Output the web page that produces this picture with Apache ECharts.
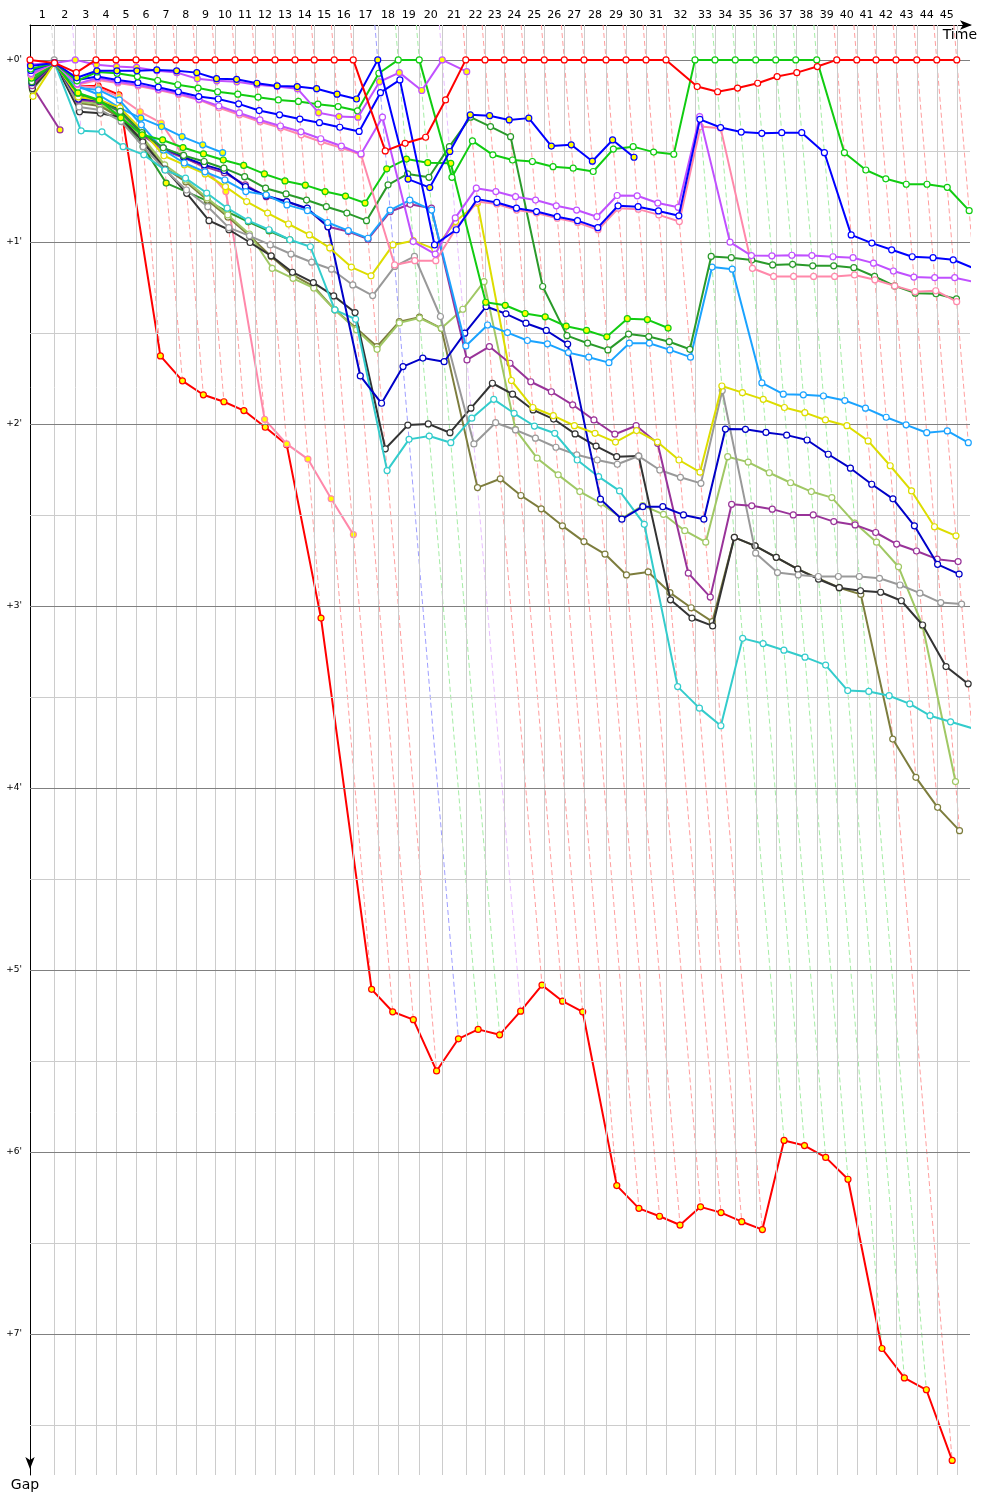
<!DOCTYPE html>
<html>
<head>
<meta charset="utf-8">
<script src="https://cdn.jsdelivr.net/npm/echarts@6/dist/echarts.min.js"></script>
<style>
html,body{margin:0;padding:0;background:#fff;}
#c{width:1000px;height:1500px;}
</style>
</head>
<body>
<div id="c"></div>
<script>
// Leader's elapsed race time (s) at the end of each lap 0..45
const leaderTime = [0, 97, 181, 264, 344, 424, 504, 583, 663, 740, 820, 900, 980, 1060, 1137, 1217, 1293,
  1391, 1473, 1557, 1649, 1743, 1820, 1897, 1976, 2057, 2137, 2216, 2304, 2384, 2464, 2544,
  2660, 2740, 2821, 2903, 2983, 3063, 3147, 3227, 3307, 3384, 3464, 3547, 3627, 3707];

// Gap to leader (s) per lap, index = lap number (0 = start)
const gapRed = [0, 1.0, 4.2, 0,0,0,0,0,0,0,0,0,0,0,0,0,0, 30.0, 27.5, 25.5, 13.2, 0,0,0,0,0,0,0,0,0,0,0,
  8.8, 10.5, 9.3, 7.7, 5.5, 4.2, 2.2, 0,0,0,0,0,0,0];
const gapBlueA = [2.0, 1.0, 5.9, 3.6, 3.6, 3.6, 3.3, 3.6, 4.2, 6.2, 6.4, 7.7, 8.6, 8.8, 9.5, 11.3, 12.9,
  0, 39.3, 42.1, 30.2, 18.1, 18.4, 19.8, 19.2, 28.4, 28.0, 33.4, 26.4, 32.1];
const gapVioletA = [1.5, 1.0, 0, 1.6, 2.2, 2.5, 3.6, 4.2, 6.2, 6.9, 7.2, 8.2, 8.8, 9.5, 17.4, 18.7, 18.9,
  7.2, 4.2, 10.1, 0, 3.9];
const gapGreenA = [3.0, 1.0, 6.9, 4.0, 4.4, 5.5, 6.8, 8.2, 9.3, 10.5, 11.3, 12.3, 13.2, 13.7, 14.6, 15.4, 16.8,
  4.4, 0, 0, 38.7, 26.7, 31.3, 33.0, 33.5, 35.2, 35.7, 36.8, 29.4, 28.6, 30.4, 31.1,
  0, 0, 0, 0, 0, 0, 0, 30.6, 36.3, 39.2, 41.0, 41.0, 42.0, 49.7];
const gapBlueB = [3.5, 1.0, 6.6, 5.5, 6.6, 7.5, 9.0, 10.5, 12.1, 12.9, 14.5, 16.7, 18.1, 19.5, 20.7, 22.2, 23.6,
  10.8, 6.6, 61.0, 56.0, 45.9, 47.0, 48.9, 50.0, 51.7, 53.0, 55.3, 48.1, 48.4, 49.8, 51.4,
  19.6, 22.3, 23.8, 24.2, 24.0, 24.0, 30.6, 57.7, 60.4, 62.6, 64.9, 65.2, 65.9, 68.7];
const gapVioletB = [4.5, 1.0, 7.9, 6.0, 7.2, 8.2, 9.7, 11.0, 13.0, 15.2, 17.5, 19.8, 21.8, 23.7, 26.0, 28.4, 31.0,
  18.9, 59.9, 64.0, 52.1, 42.3, 43.4, 45.1, 46.2, 48.1, 49.5, 51.7, 44.7, 44.8, 47.2, 48.6,
  18.7, 60.1, 64.5, 64.6, 64.4, 64.5, 64.9, 65.2, 67.0, 69.6, 71.6, 71.8, 71.8, 73.3];
const gapPinkB = [5.0, 1.0, 8.2, 6.6, 7.6, 8.6, 9.9, 11.4, 13.2, 15.8, 18.1, 20.4, 22.4, 24.7, 27.0, 29.0, 31.3,
  67.6, 66.2, 66.2, 55.5, 46.7, 47.5, 49.5, 50.5, 52.2, 53.6, 56.0, 48.9, 49.2, 51.1, 53.3,
  22.0, 22.5, 68.7, 71.4, 71.4, 71.4, 71.4, 70.9, 72.5, 74.5, 76.4, 76.1, 79.7];
const gapGreenB = [6.0, 1.0, 10.9, 13.2, 19.1, 24.7, 26.4, 28.9, 31.0, 33.0, 34.8, 37.6, 39.9, 41.3, 43.4, 44.9, 47.2,
  35.9, 32.7, 33.9, 34.1, 79.9, 80.9, 83.6, 84.7, 87.8, 89.2, 91.3, 85.3, 85.6, 88.4];
const gapForestA = [7.2, 1.0, 11.0, 13.5, 17.0, 24.0, 29.0, 31.5, 33.5, 35.7, 38.5, 42.3, 44.2, 46.2, 48.4, 50.5, 53.0,
  41.2, 37.6, 38.7, 28.6, 18.9, 22.0, 25.3, 74.7, 90.9, 93.4, 95.6, 90.4, 91.2, 92.9, 95.4,
  64.8, 65.2, 66.0, 67.6, 67.4, 67.9, 67.9, 68.5, 71.4, 74.5, 76.9, 77.1, 78.8];
const gapForestB = [7.0, 1.0, 11.5, 14.8, 19.1, 28.6, 40.6, 43.5, 46.5, 50.1, 53.4, 56.4, 59.3];
const gapSkyA = [5.5, 1.0, 9.2, 9.9, 13.2, 21.4, 29.7, 34.0, 36.9, 39.6, 43.4, 44.5, 47.8, 49.7, 53.6, 56.3, 58.8,
  49.5, 46.2, 49.5, 94.3, 87.4, 89.9, 92.5, 93.6, 96.5, 98.0, 99.8, 93.4, 93.4, 95.6, 98.0,
  68.3, 69.0, 106.5, 110.2, 110.4, 110.8, 112.3, 114.8, 117.8, 120.3, 122.9, 122.3, 126.2];
const gapSkyB = [4.8, 1.0, 8.6, 11.5, 15.9, 19.2, 22.0, 25.3, 28.0, 30.6];
const gapYellow = [12.0, 1.0, 12.2, 13.2, 15.8, 23.1, 31.6, 34.6, 37.6, 41.8, 46.7, 50.5, 54.1, 57.7, 62.0, 68.3, 71.2,
  61.0, 59.6, 62.4, 53.3, 47.2, 105.7, 114.6, 117.3, 120.6, 123.1, 126.0, 122.2, 126.0, 131.9, 135.9,
  107.5, 109.7, 111.9, 114.6, 116.3, 118.7, 120.6, 125.6, 133.8, 142.1, 153.9, 156.9];
const gapGray = [8.0, 0, 15.5, 16.5, 20.3, 28.6, 36.3, 42.9, 48.4, 55.3, 58.0, 61.0, 64.0, 66.7, 69.0, 74.2, 77.7,
  68.1, 64.8, 84.6, 126.6, 119.6, 122.0, 124.7, 127.7, 130.2, 131.9, 133.3, 130.6, 135.2, 137.6, 139.6,
  109.0, 162.6, 169.0, 169.8, 170.3, 170.3, 170.3, 170.9, 173.1, 175.8, 178.9, 179.4];
const gapBlack = [9.5, 1.0, 17.1, 17.6, 18.9, 27.0, 36.0, 44.0, 53.0, 56.0, 60.2, 64.6, 70.0, 73.4, 77.8, 83.3, 128.2,
  120.4, 120.0, 122.9, 114.8, 106.6, 110.2, 115.4, 118.4, 123.3, 127.3, 130.8, 130.6, 178.0, 184.0, 186.6,
  157.4, 160.2, 164.0, 167.9, 171.2, 174.0, 175.0, 175.5, 178.3, 186.3, 200.0, 205.7];
const gapOlive = [9.0, 1.0, 14.2, 15.2, 19.1, 26.4, 35.6, 40.2, 46.2, 51.8, 58.0, 64.8, 70.9, 74.7, 82.4, 88.5, 94.5,
  86.3, 84.8, 88.5, 141.0, 138.1, 143.6, 148.0, 153.6, 158.8, 162.9, 169.8, 168.8, 175.6, 180.6, 185.2,
  157.4, 160.2, 164.0, 167.9, 170.9, 174.0, 176.2, 223.9, 236.5, 246.4, 254.1];
const gapLimeOlive = [10.0, 1.0, 13.8, 14.5, 18.1, 25.4, 34.6, 39.6, 45.5, 51.1, 57.4, 68.7, 72.0, 75.2, 82.4, 89.0, 95.4,
  86.7, 85.1, 88.5, 82.2, 73.1, 121.8, 131.3, 136.8, 142.3, 146.1, 151.1, 146.9, 149.8, 155.2, 159.0,
  130.8, 132.6, 136.1, 139.4, 142.3, 144.3, 152.7, 159.0, 167.1, 186.6, 237.9];
const gapTurquoise = [4.0, 1.0, 23.4, 23.7, 28.6, 31.3, 36.3, 39.0, 43.9, 48.9, 53.0, 56.0, 59.3, 61.6, 82.4, 85.5, 135.4,
  125.1, 124.0, 126.2, 118.1, 111.9, 116.5, 120.7, 123.1, 131.9, 137.4, 142.1, 153.1, 206.6, 213.7, 219.5,
  190.7, 192.4, 194.6, 196.9, 199.5, 207.9, 208.2, 209.6, 212.3, 216.2, 218.2, 220.3];
const gapPurple = [8.5, 1.0, 13.2, 13.8, 17.1, 24.7, 29.7, 32.3, 35.2, 37.2, 41.2, 45.1, 46.7, 49.2, 55.0, 56.6, 59.1,
  50.0, 47.6, 48.9, 98.9, 94.5, 100.0, 106.1, 109.4, 113.7, 118.7, 123.4, 120.6, 126.4, 169.2, 177.1,
  146.5, 147.0, 148.1, 150.0, 150.0, 152.2, 153.3, 155.8, 159.6, 161.9, 164.6, 165.4];
const gapNavy = [7.5, 1.0, 12.9, 13.2, 16.5, 24.1, 29.0, 32.0, 34.6, 36.5, 41.8, 44.8, 46.7, 48.9, 55.0, 104.2, 113.2,
  101.1, 98.3, 99.5, 90.1, 81.3, 83.7, 86.8, 89.2, 93.7, 144.8, 151.4, 147.3, 147.3, 150.0, 151.4,
  121.7, 121.8, 122.8, 123.7, 125.3, 130.0, 134.6, 139.9, 144.7, 153.6, 166.3, 169.5];
const gapRedLapped = [5.0, 1.0, 8.6, 8.6, 11.5, 97.6, 105.8, 110.4, 112.7, 115.6, 121.1, 126.9, 184.0, 306.4, 313.8, 316.4, 333.3,
  322.7, 319.6, 321.4, 313.6, 305.0, 310.3, 313.8, 371.1, 378.6, 381.2, 384.1, 378.1, 380.0, 383.0, 385.6,
  356.2, 357.9, 361.8, 369.0, 424.8, 434.5, 438.4, 461.7];
const gapPinkA = [6.5, 1.0, 8.6, 9.2, 12.2, 17.1, 20.8, 31.9, 35.7, 43.4, 118.5, 126.6, 131.6, 144.7, 156.5];
const gapPurpleShort = [8.8, 23.1];

// y tick labels (s) and grid steps
const gapTicks = [0, 60, 120, 180, 240, 300, 360, 420];
const gridSteps = [0, 30, 60, 90, 120, 150, 180, 210, 240, 270, 300, 330, 360, 390, 420, 450];

const Y_MIN = -11.5, Y_MAX = 466.5, X_MAX = 3760;
const FONT = 'DejaVu Sans';

// drawing order: first = bottom
const defs = [
  {gaps: gapRedLapped, color: '#ff0000', fill: '#ffff00'},
  {gaps: gapPinkA, color: '#ff88aa', fill: '#ffff00'},
  {gaps: gapPurpleShort, color: '#993399', fill: '#ffff00'},
  {gaps: gapSkyB, color: '#1aa3ff', fill: '#ffff00'},
  {gaps: gapForestB, color: '#2a9a2a', fill: '#ffff00'},
  {gaps: gapOlive, color: '#7d7d3d', fill: '#ffffff'},
  {gaps: gapLimeOlive, color: '#a0c864', fill: '#ffffff'},
  {gaps: gapBlack, color: '#333333', fill: '#ffffff'},
  {gaps: gapGray, color: '#999999', fill: '#ffffff'},
  {gaps: gapTurquoise, color: '#33cccc', fill: '#ffffff'},
  {gaps: gapPurple, color: '#993399', fill: '#ffffff'},
  {gaps: gapNavy, color: '#0000c8', fill: '#ffffff'},
  {gaps: gapYellow, color: '#dddd00', fill: '#ffffff'},
  {gaps: gapSkyA, color: '#1aa3ff', fill: '#ffffff'},
  {gaps: gapForestA, color: '#2a9a2a', fill: '#ffffff'},
  {gaps: gapGreenB, color: '#11cc11', fill: '#ffff00'},
  {gaps: gapPinkB, color: '#ff88aa', fill: '#ffffff'},
  {gaps: gapVioletB, color: '#c050ff', fill: '#ffffff'},
  {gaps: gapBlueB, color: '#0000ff', fill: '#ffffff'},
  {gaps: gapGreenA, color: '#11cc11', fill: '#ffffff'},
  {gaps: gapVioletA, color: '#c050ff', fill: '#ffff00'},
  {gaps: gapBlueA, color: '#0000ff', fill: '#ffff00'},
  {gaps: gapRed, color: '#ff0000', fill: '#ffffff'}
];

function lighten(hex, t) {
  const n = parseInt(hex.slice(1), 16);
  const r = (n >> 16) & 255, g = (n >> 8) & 255, b = n & 255;
  const f = c => Math.round(c + (255 - c) * t);
  return 'rgb(' + f(r) + ',' + f(g) + ',' + f(b) + ')';
}

// lap label positions: middle of each lap interval
const lapMid = [];
for (let i = 1; i < leaderTime.length; i++) lapMid.push((leaderTime[i - 1] + leaderTime[i]) / 2);
function lapName(v) {
  for (let i = 0; i < lapMid.length; i++) if (Math.abs(lapMid[i] - v) < 0.01) return String(i + 1);
  return '';
}

// dashed per-lap lines: from top through leader to the slowest car of the lap
const lapLines = [];
for (let i = 1; i < leaderTime.length; i++) {
  let maxGap = 0, leader = null;
  defs.forEach(d => {
    if (d.gaps.length > i) {
      if (d.gaps[i] > maxGap) maxGap = d.gaps[i];
      if (d.gaps[i] === 0 && !leader) leader = d;
    }
  });
  const col = leader ? leader.color : '#ff0000';
  lapLines.push({
    coords: [[leaderTime[i] + Y_MIN, Y_MIN], [leaderTime[i] + maxGap, maxGap]],
    lineStyle: {color: lighten(col, 0.62)}
  });
}

const series = [];
// vertical lap grid lines
series.push({
  type: 'line', data: [], silent: true, z: 1,
  markLine: {
    silent: true, symbol: ['none', 'none'], animation: false, label: {show: false},
    lineStyle: {color: '#cccccc', width: 1, type: 'solid'},
    emphasis: {disabled: true},
    data: leaderTime.slice(1).map(t => ({xAxis: t}))
  }
});
// horizontal gap grid lines
series.push({
  type: 'line', data: [], silent: true, z: 1,
  markLine: {
    silent: true, symbol: ['none', 'none'], animation: false, label: {show: false},
    emphasis: {disabled: true},
    data: gridSteps.map(v => ({yAxis: v, lineStyle: {color: v % 60 === 0 ? '#808080' : '#cccccc', width: 1, type: 'solid'}}))
  }
});
series.push({
  type: 'lines', coordinateSystem: 'cartesian2d', silent: true, z: 2,
  lineStyle: {width: 1, type: [5, 3], opacity: 1},
  data: lapLines
});
defs.forEach((d, k) => {
  series.push({
    type: 'line', z: 3 + k,
    data: d.gaps.map((g, lap) => [leaderTime[lap] + g, g]),
    symbol: 'circle', symbolSize: 6, showSymbol: true, showAllSymbol: true,
    lineStyle: {color: d.color, width: 2},
    itemStyle: {color: d.fill, borderColor: d.color, borderWidth: 1.2},
    emphasis: {disabled: true},
    animation: false
  });
});

const chart = echarts.init(document.getElementById('c'));
chart.setOption({
  animation: false,
  backgroundColor: '#ffffff',
  textStyle: {fontFamily: FONT},
  grid: {left: 30, right: 30, top: 25, bottom: 25, containLabel: false},
  xAxis: {
    type: 'value', position: 'top', min: 0, max: X_MAX,
    axisLine: {show: true, onZero: false, lineStyle: {color: '#000', width: 1},
      symbol: ['none', 'arrow'], symbolSize: [7, 12], symbolOffset: [0, 2]},
    axisTick: {show: false},
    splitLine: {show: false},
    axisLabel: {customValues: lapMid, formatter: lapName, fontSize: 11, color: '#000', margin: 4, fontFamily: FONT},
    name: 'Time', nameLocation: 'end', nameGap: 7,
    nameTextStyle: {fontSize: 14, color: '#000', align: 'right', verticalAlign: 'top', padding: [3, 0, 0, 0], fontFamily: FONT}
  },
  yAxis: {
    type: 'value', inverse: true, min: Y_MIN, max: Y_MAX,
    axisLine: {show: true, onZero: false, lineStyle: {color: '#000', width: 1},
      symbol: ['arrow', 'none'], symbolSize: [7, 12], symbolOffset: [6, 0]},
    axisTick: {show: false},
    splitLine: {show: false},
    axisLabel: {customValues: gapTicks, formatter: v => '+' + Math.round(v / 60) + "'", fontSize: 9, color: '#000', margin: 8, fontFamily: FONT},
    name: 'Gap', nameLocation: 'end', nameGap: 3,
    nameTextStyle: {fontSize: 14, color: '#000', fontFamily: FONT, padding: [0, 10, 0, 0]}
  },
  series: series
});
</script>
</body>
</html>
